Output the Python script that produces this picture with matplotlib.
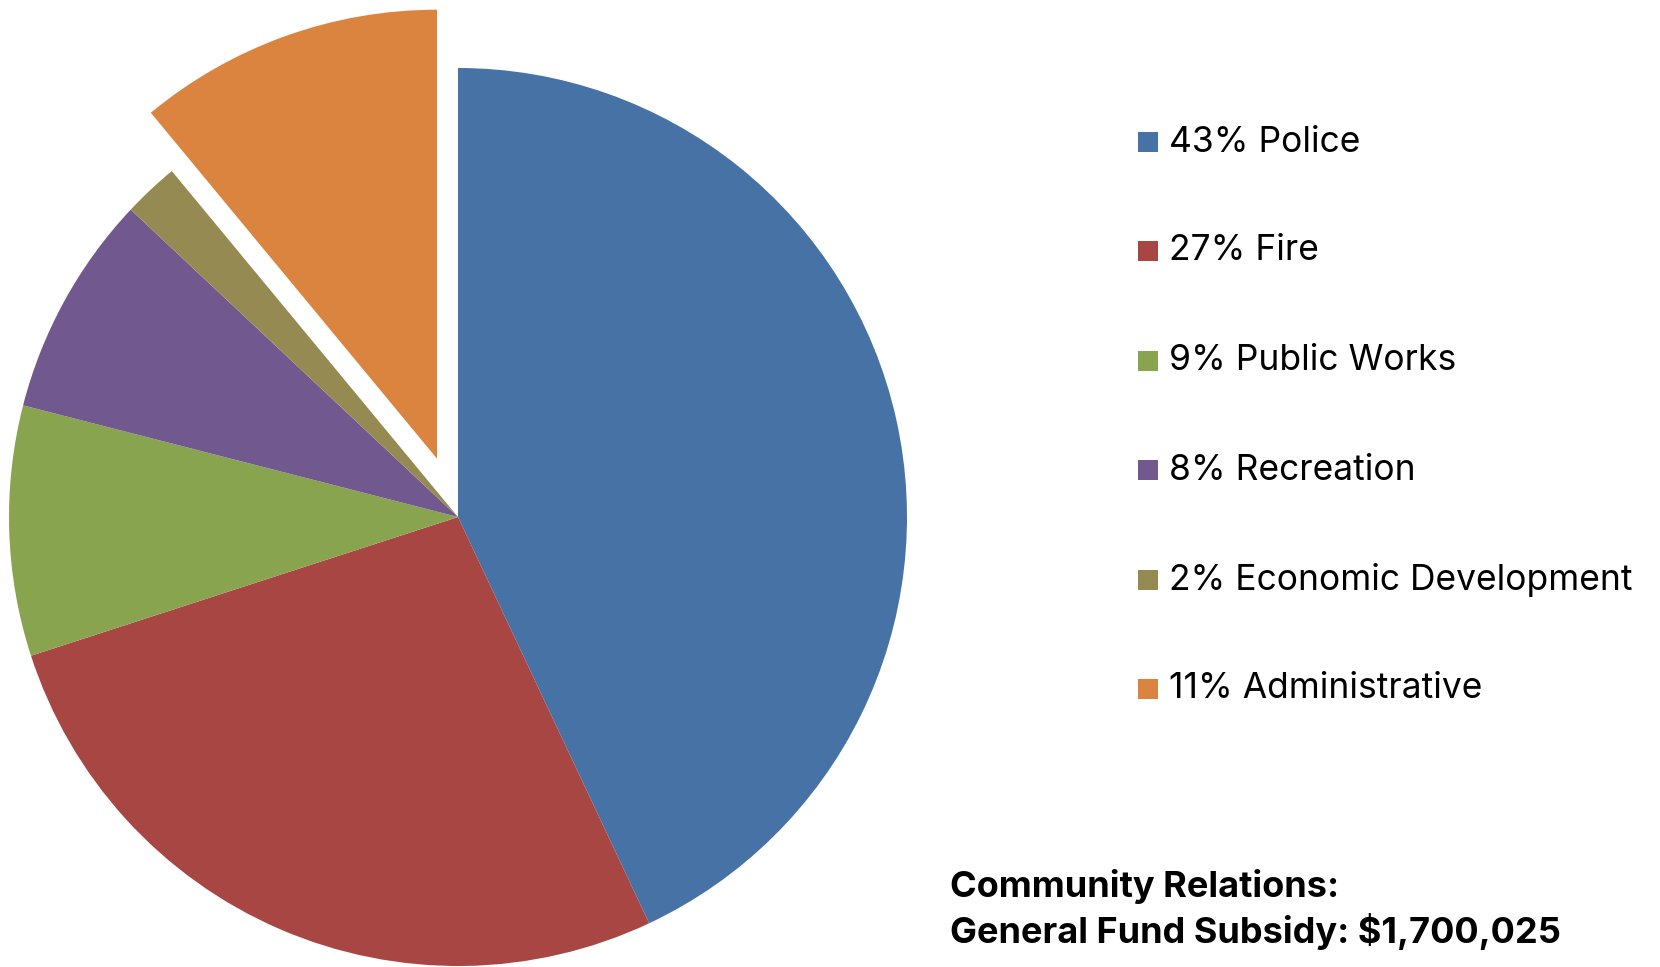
import matplotlib.pyplot as plt
from matplotlib.patches import Rectangle

plt.rcParams['font.family'] = ['Inter', 'DejaVu Sans']

departments = ["Police", "Fire", "Public Works", "Recreation",
               "Economic Development", "Administrative"]
shares = [43, 27, 9, 8, 2, 11]
colors = ["#4672A6", "#A84644", "#89A44E", "#71588F", "#958B52", "#DA843F"]
pull_out = [0, 0, 0, 0, 0, 0.138]   # fraction of the radius

W, H = 1660, 967
R = 449
fig = plt.figure(figsize=(W / 100, H / 100), dpi=100)
ax = fig.add_axes([0, 0, 1, 1])

# pie drawn clockwise from 12 o'clock, admin slice pulled out
ax.pie(shares, colors=colors, explode=[p * R for p in pull_out],
       startangle=90, counterclock=False, center=(458, H - 517), radius=R,
       wedgeprops=dict(linewidth=0), frame=True)
ax.set_xlim(0, W)
ax.set_ylim(0, H)
ax.set_aspect("equal")
ax.axis("off")

# legend
row_y = [142, 251, 361, 470, 580, 689]
for name, pct, c, y in zip(departments, shares, colors, row_y):
    ax.add_patch(Rectangle((1138, H - y - 10), 20, 20, color=c, lw=0))
    ax.text(1169, H - y, f"{pct}% {name}", fontsize=25.5, va="center",
            ha="left", color="#000000")

ax.text(950, H - 887, "Community Relations:", fontsize=26,
        fontweight="bold", va="center", ha="left", color="#000000")
ax.text(950, H - 932, "General Fund Subsidy: $1,700,025", fontsize=26,
        fontweight="bold", va="center", ha="left", color="#000000")

fig.savefig("out.png", dpi=100)
